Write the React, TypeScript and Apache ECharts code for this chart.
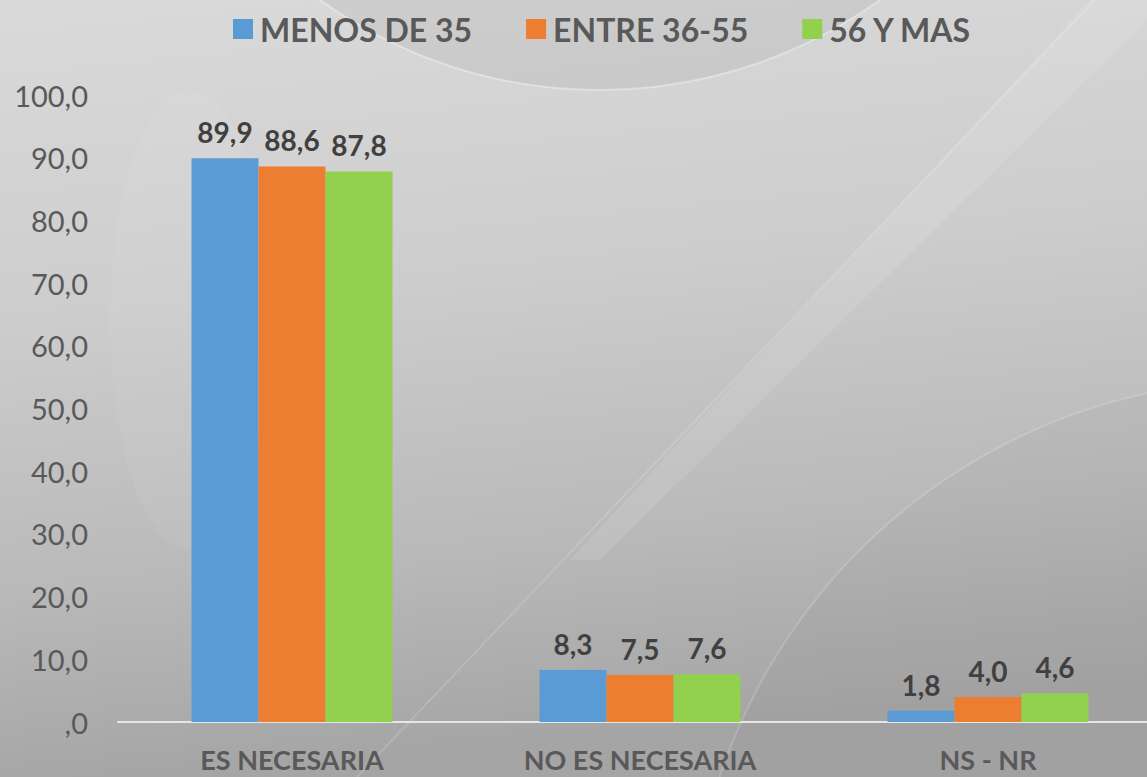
import React, { useEffect, useRef } from "react";
import * as echarts from "echarts";

const categories = ["ES NECESARIA", "NO ES NECESARIA", "NS - NR"];
const seriesNames = ["MENOS DE 35", "ENTRE 36-55", "56 Y MAS"];
const menos35 = [89.9, 8.3, 1.8];
const entre3655 = [88.6, 7.5, 4.0];
const mas56 = [87.8, 7.6, 4.6];
const colors = ["#5B9BD5", "#ED7D31", "#92D050"];

const fmt = (v: number) => {
  const s = v.toFixed(1).replace(".", ",");
  return s.startsWith("0,") ? s.slice(1) : s;
};

export default function App() {
  const ref = useRef<HTMLDivElement>(null);
  useEffect(() => {
    if (!ref.current) return;
    const chart = echarts.init(ref.current, undefined, { renderer: "svg" });
    const values = [menos35, entre3655, mas56];
    chart.setOption({
      animation: false,
      backgroundColor: {
        type: "linear",
        x: 0,
        y: 0,
        x2: 0.15,
        y2: 1,
        colorStops: [
          { offset: 0, color: "#dadada" },
          { offset: 0.4, color: "#cdcdcd" },
          { offset: 0.75, color: "#b9b9b9" },
          { offset: 1, color: "#a5a5a5" },
        ],
      },
      graphic: [
        {
          type: "circle",
          shape: { cx: 600, cy: -390, r: 480 },
          style: { fill: "rgba(0,0,0,0.05)", stroke: "rgba(255,255,255,0.35)", lineWidth: 2 },
          silent: true,
          z: -10,
        },
        {
          type: "polygon",
          shape: { points: [[1090, 0], [1147, 0], [1147, 20], [600, 560], [570, 560]] },
          style: { fill: "rgba(255,255,255,0.10)" },
          silent: true,
          z: -10,
        },
        {
          type: "line",
          shape: { x1: 1095, y1: 0, x2: 357, y2: 777 },
          style: { stroke: "rgba(255,255,255,0.15)", lineWidth: 2 },
          silent: true,
          z: -10,
        },
        {
          type: "circle",
          shape: { cx: 1270, cy: 960, r: 580 },
          style: { fill: "rgba(0,0,0,0.025)", stroke: "rgba(255,255,255,0.16)", lineWidth: 2 },
          silent: true,
          z: -10,
        },
        {
          type: "ellipse",
          shape: { cx: 190, cy: 320, rx: 80, ry: 230 },
          style: { fill: "rgba(255,255,255,0.05)" },
          silent: true,
          z: -10,
        },
      ],
      legend: {
        top: 13,
        left: 233,
        padding: 0,
        itemWidth: 20,
        itemHeight: 20,
        itemGap: 54,
        icon: "rect",
        textStyle: {
          fontFamily: "Lato",
          fontWeight: "bold",
          fontSize: 32,
          color: "#595959",
          padding: [0, 0, 0, 2],
        },
        data: seriesNames,
      },
      grid: { left: 118, top: 95, right: 3, height: 627, containLabel: false },
      xAxis: {
        type: "category",
        data: categories,
        axisLine: { lineStyle: { color: "#e6e6e6", width: 2 } },
        axisTick: { show: false },
        axisLabel: {
          margin: 24,
          fontFamily: "Lato",
          fontWeight: "bold",
          fontSize: 27,
          color: "#595959",
        },
      },
      yAxis: {
        type: "value",
        min: 0,
        max: 100,
        interval: 10,
        splitLine: { show: false },
        axisLine: { show: false },
        axisTick: { show: false },
        axisLabel: {
          margin: 30,
          fontFamily: "Lato",
          fontSize: 29,
          color: "#595959",
          formatter: (v: number) => fmt(v),
        },
      },
      series: seriesNames.map((name, i) => ({
        name,
        type: "bar",
        data: values[i],
        barWidth: 67,
        barGap: "0%",
        itemStyle: { color: colors[i] },
        label: {
          show: true,
          position: "top",
          distance: 12,
          fontFamily: "Lato",
          fontWeight: "bold",
          fontSize: 28,
          color: "#404040",
          formatter: (p: any) => fmt(p.value),
        },
      })),
    });
    return () => chart.dispose();
  }, []);
  return (
    <div style={{ position: "fixed", left: 0, top: 0, width: 1147, height: 777, overflow: "hidden" }}>
      <div ref={ref} style={{ width: 1165, height: 777 }} />
    </div>
  );
}
